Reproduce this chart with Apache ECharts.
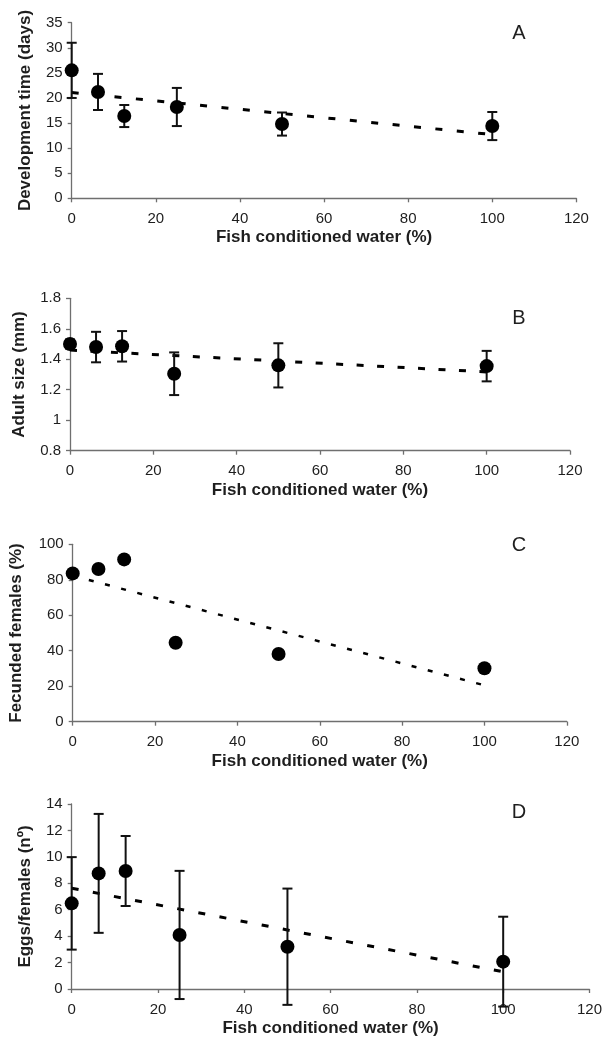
<!DOCTYPE html>
<html>
<head>
<meta charset="utf-8">
<script src="https://cdn.jsdelivr.net/npm/echarts@6/dist/echarts.min.js"></script>
<style>
html,body{margin:0;padding:0;background:#fff;}
#chart{width:605px;height:1044px;}
</style>
</head>
<body>
<div id="chart"></div>
<script>
// ---- data ----
const xValues = [0, 6.25, 12.5, 25, 50, 100];
const xTicks = [0, 20, 40, 60, 80, 100, 120];

const devTime = [25.5, 21.2, 16.4, 18.2, 14.8, 14.4];
const devTimeErr = [5.5, 3.6, 2.2, 3.8, 2.3, 2.8];
const devTrend = [[0, 21.1], [100, 12.7]];

const adultSize = [1.50, 1.48, 1.485, 1.305, 1.36, 1.355];
const adultSizeErr = [0.03, 0.10, 0.10, 0.14, 0.145, 0.10];
const sizeTrend = [[0, 1.46], [100, 1.317]];

const fecunded = [83.6, 86.1, 91.5, 44.5, 38.2, 30.1];
const fecTrend = [[0, 82.3], [100, 20.5]];

const eggs = [6.48, 8.75, 8.93, 4.09, 3.2, 2.07];
const eggsErr = [3.5, 4.5, 2.65, 4.85, 4.4, 3.4];
const eggsTrend = [[0, 7.63], [100, 1.30]];

const xTitle = 'Fish conditioned water (%)';
const yTitles = ['Development time (days)', 'Adult size (mm)', 'Fecunded females (%)', 'Eggs/females (nº)'];
const panelLetters = ['A', 'B', 'C', 'D'];

// ---- layout ----
const FONT = '"Liberation Sans", Arial, sans-serif';
const grids = [
  {left: 71.7, top: 22.7, width: 504.7, height: 175.6},
  {left: 70, top: 298.3, width: 500, height: 152.4},
  {left: 72.7, top: 544.3, width: 494.1, height: 177.4},
  {left: 71.7, top: 804, width: 518.3, height: 185}
];
const yRanges = [
  {min: 0, max: 35, interval: 5},
  {min: 0.8, max: 1.8, interval: 0.2},
  {min: 0, max: 100, interval: 20},
  {min: 0, max: 14, interval: 2}
];
const yNameGaps = [37.5, 42, 47.5, 37.5];
const letterPos = [[512.3, 23.5], [512.3, 308], [511.8, 535], [511.8, 802]];

const axisColor = '#6f6f6f';
const labelColor = '#1e1e1e';

function makeX(i) {
  return {
    type: 'value', gridIndex: i, min: 0, max: 120, interval: 20,
    name: xTitle, nameLocation: 'middle', nameGap: 31,
    nameTextStyle: {fontFamily: FONT, fontSize: 17, fontWeight: 'bold', color: labelColor},
    axisLine: {show: true, onZero: false, lineStyle: {color: axisColor, width: 1.3}},
    axisTick: {show: true, inside: false, length: 4, lineStyle: {color: axisColor, width: 1.3}},
    axisLabel: {fontFamily: FONT, fontSize: 15, color: labelColor, margin: 13},
    splitLine: {show: false}
  };
}
function makeY(i) {
  const r = yRanges[i];
  return {
    type: 'value', gridIndex: i, min: r.min, max: r.max, interval: r.interval,
    name: yTitles[i], nameLocation: 'middle', nameGap: yNameGaps[i],
    nameTextStyle: {fontFamily: FONT, fontSize: 17, fontWeight: 'bold', color: labelColor},
    axisLine: {show: true, lineStyle: {color: axisColor, width: 1.3}},
    axisTick: {show: true, inside: false, length: 4, lineStyle: {color: axisColor, width: 1.3}},
    axisLabel: {fontFamily: FONT, fontSize: 15, color: labelColor, margin: 9,
      formatter: function (v) { return String(Math.round(v * 100) / 100); }},
    splitLine: {show: false}
  };
}

function renderErr(params, api) {
  const x = api.value(0), y = api.value(1), e = api.value(2);
  const t = api.coord([x, y + e]);
  const b = api.coord([x, y - e]);
  const hw = 5;
  const st = {stroke: '#111', lineWidth: 2};
  return {type: 'group', children: [
    {type: 'line', shape: {x1: t[0], y1: t[1], x2: b[0], y2: b[1]}, style: st},
    {type: 'line', shape: {x1: t[0] - hw, y1: t[1], x2: t[0] + hw, y2: t[1]}, style: st},
    {type: 'line', shape: {x1: b[0] - hw, y1: b[1], x2: b[0] + hw, y2: b[1]}, style: st}
  ]};
}
function errSeries(i, means, errs) {
  return {type: 'custom', xAxisIndex: i, yAxisIndex: i, clip: false, z: 3,
    renderItem: renderErr, silent: true,
    data: xValues.map((x, k) => [x, means[k], errs[k]])};
}
function pointSeries(i, means) {
  return {type: 'scatter', xAxisIndex: i, yAxisIndex: i, symbolSize: 14, z: 4,
    itemStyle: {color: '#000', opacity: 1}, silent: true,
    data: xValues.map((x, k) => [x, means[k]])};
}
function trendSeries(i, pts, width, dash) {
  return {type: 'line', xAxisIndex: i, yAxisIndex: i, showSymbol: false, symbol: 'none', z: 2,
    silent: true, lineStyle: {color: '#000', width: width, type: dash, cap: 'butt'},
    data: pts};
}

const option = {
  backgroundColor: '#fff',
  animation: false,
  title: panelLetters.map((t, i) => ({
    text: t, left: letterPos[i][0], top: letterPos[i][1], padding: 0,
    textStyle: {fontFamily: FONT, fontSize: 20, fontWeight: 'normal', color: labelColor}
  })),
  grid: grids.map(g => Object.assign({containLabel: false}, g)),
  xAxis: [0, 1, 2, 3].map(makeX),
  yAxis: [0, 1, 2, 3].map(makeY),
  series: [
    trendSeries(0, devTrend, 3, [7, 14.5]),
    errSeries(0, devTime, devTimeErr),
    pointSeries(0, devTime),

    trendSeries(1, sizeTrend, 3, [7, 13.5]),
    errSeries(1, adultSize, adultSizeErr),
    pointSeries(1, adultSize),

    trendSeries(2, fecTrend, 2.5, [5, 11.7]),
    pointSeries(2, fecunded),

    trendSeries(3, eggsTrend, 3, [7, 14.5]),
    errSeries(3, eggs, eggsErr),
    pointSeries(3, eggs)
  ]
};

const chart = echarts.init(document.getElementById('chart'), null, {renderer: 'canvas'});
chart.setOption(option);
</script>
</body>
</html>
